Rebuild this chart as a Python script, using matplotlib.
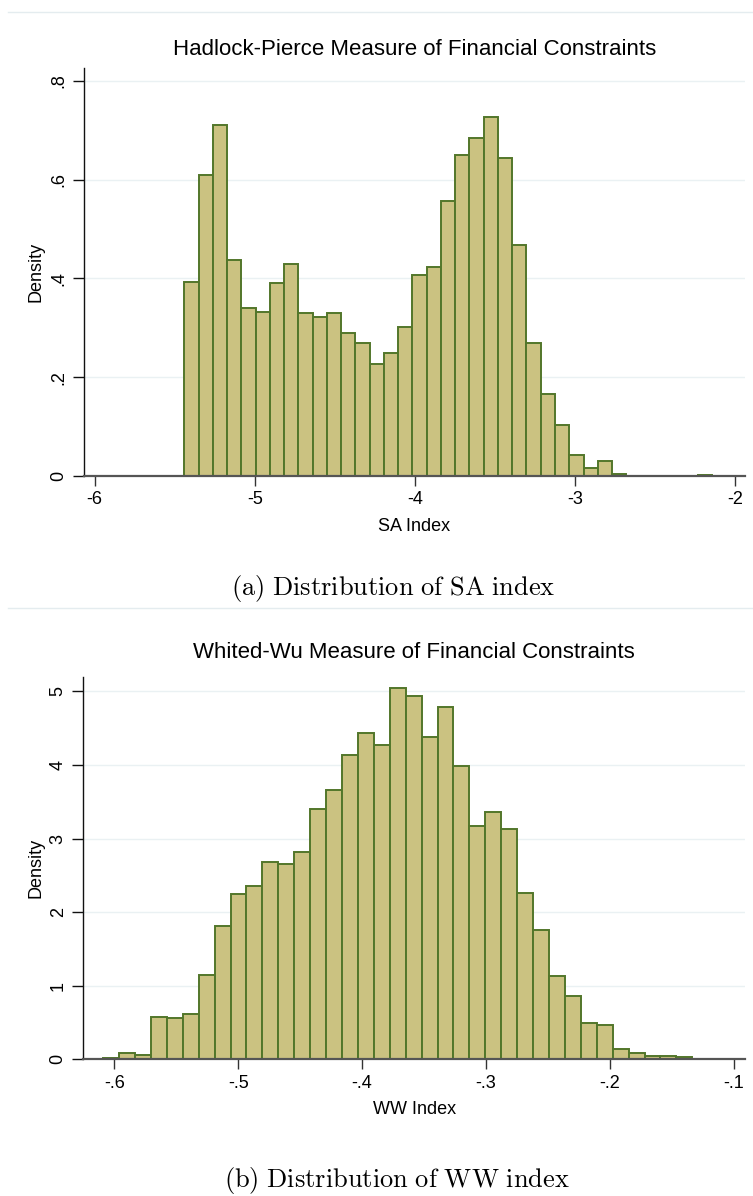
import matplotlib
matplotlib.use("Agg")
import matplotlib.pyplot as plt
from matplotlib.lines import Line2D

plt.rcParams['font.family'] = ['Liberation Sans', 'DejaVu Sans']
plt.rcParams['mathtext.fontset'] = 'cm'

# ---- Data: SA index histogram (density per bin) ----
sa_bin_start = -5.44
sa_bin_width = 0.0891
sa_density = [0.393, 0.609, 0.711, 0.437, 0.340, 0.333, 0.391, 0.429, 0.331, 0.322,
              0.331, 0.289, 0.269, 0.226, 0.249, 0.302, 0.407, 0.424, 0.556, 0.649,
              0.685, 0.726, 0.644, 0.468, 0.269, 0.166, 0.103, 0.042, 0.016, 0.030,
              0.004, 0.0, 0.0, 0.0, 0.0, 0.0, 0.002]
sa_xticks = [-6, -5, -4, -3, -2]
sa_xticklabels = ['-6', '-5', '-4', '-3', '-2']
sa_yticks = [0, 0.2, 0.4, 0.6, 0.8]
sa_yticklabels = ['0', '.2', '.4', '.6', '.8']

# ---- Data: WW index histogram ----
ww_bin_start = -0.609
ww_bin_width = 0.01285
ww_density = [0.02, 0.08, 0.063, 0.58, 0.566, 0.611, 1.142, 1.812, 2.247, 2.361,
              2.687, 2.651, 2.814, 3.399, 3.657, 4.142, 4.432, 4.269, 5.048, 4.935,
              4.386, 4.786, 3.992, 3.168, 3.362, 3.136, 2.265, 1.762, 1.128, 0.856,
              0.494, 0.462, 0.145, 0.08, 0.05, 0.05, 0.03]
ww_xticks = [-0.6, -0.5, -0.4, -0.3, -0.2, -0.1]
ww_xticklabels = ['-.6', '-.5', '-.4', '-.3', '-.2', '-.1']
ww_yticks = [0, 1, 2, 3, 4, 5]
ww_yticklabels = ['0', '1', '2', '3', '4', '5']

FILL = '#CBC281'
EDGE = '#52762A'
GRID = '#EAF1F3'

W, H = 753, 1196
fig = plt.figure(figsize=(W / 100, H / 100), dpi=100)


def px_axes(l, t, r, b):
    return fig.add_axes([l / W, 1 - b / H, (r - l) / W, (b - t) / H])


def draw(ax, start, width, dens, xticks, xtl, yticks, ytl, xlim, ylim, title, xlabel, tpad):
    lefts = [start + i * width for i in range(len(dens))]
    ax.bar(lefts, dens, width=width, align='edge', color=FILL,
           edgecolor=EDGE, linewidth=1.4, zorder=3)
    ax.set_xlim(*xlim)
    ax.set_ylim(*ylim)
    ax.set_xticks(xticks)
    ax.set_xticklabels(xtl, fontsize=13)
    ax.set_yticks(yticks)
    ax.set_yticklabels(ytl, fontsize=13, rotation=90, va='center')
    for y in yticks[1:]:
        ax.axhline(y, color=GRID, lw=1.0, zorder=1)
    for s in ['top', 'right']:
        ax.spines[s].set_visible(False)
    ax.spines['left'].set_color('#111111')
    ax.spines['left'].set_linewidth(1.0)
    ax.spines['bottom'].set_color('#555555')
    ax.spines['bottom'].set_linewidth(1.6)
    ax.spines['bottom'].set_zorder(4)
    ax.tick_params(axis='x', direction='out', length=7, width=1.0, color='#333333', pad=4)
    ax.tick_params(axis='y', direction='out', length=8, width=1.0, color='#111111', pad=4)
    ax.set_title(title, fontsize=16, pad=tpad)
    ax.set_xlabel(xlabel, fontsize=13, labelpad=7)
    ax.set_ylabel('Density', fontsize=13, labelpad=4)


ax1 = px_axes(84, 68, 745, 476)
draw(ax1, sa_bin_start, sa_bin_width, sa_density, sa_xticks, sa_xticklabels,
     sa_yticks, sa_yticklabels, (-6.067, -1.936), (0, 0.826),
     'Hadlock-Pierce Measure of Financial Constraints', 'SA Index', 9.5)

ax2 = px_axes(83.3, 676.7, 745, 1059.3)
draw(ax2, ww_bin_start, ww_bin_width, ww_density, ww_xticks, ww_xticklabels,
     ww_yticks, ww_yticklabels, (-0.625, -0.091), (0, 5.20),
     'Whited-Wu Measure of Financial Constraints', 'WW Index', 13.5)

fig.text(393 / W, 1 - 588 / H, r'$\mathrm{(a)\ Distribution\ of\ SA\ index}$',
         fontsize=19, ha='center', va='center')
fig.text(397 / W, 1 - 1181 / H, r'$\mathrm{(b)\ Distribution\ of\ WW\ index}$',
         fontsize=19, ha='center', va='center')

for yy in (12, 608):
    fig.add_artist(Line2D([8 / W, 1.0], [1 - yy / H, 1 - yy / H],
                          color='#E4ECEF', lw=1.0, transform=fig.transFigure))

fig.savefig('out.png', dpi=100, facecolor='white')
